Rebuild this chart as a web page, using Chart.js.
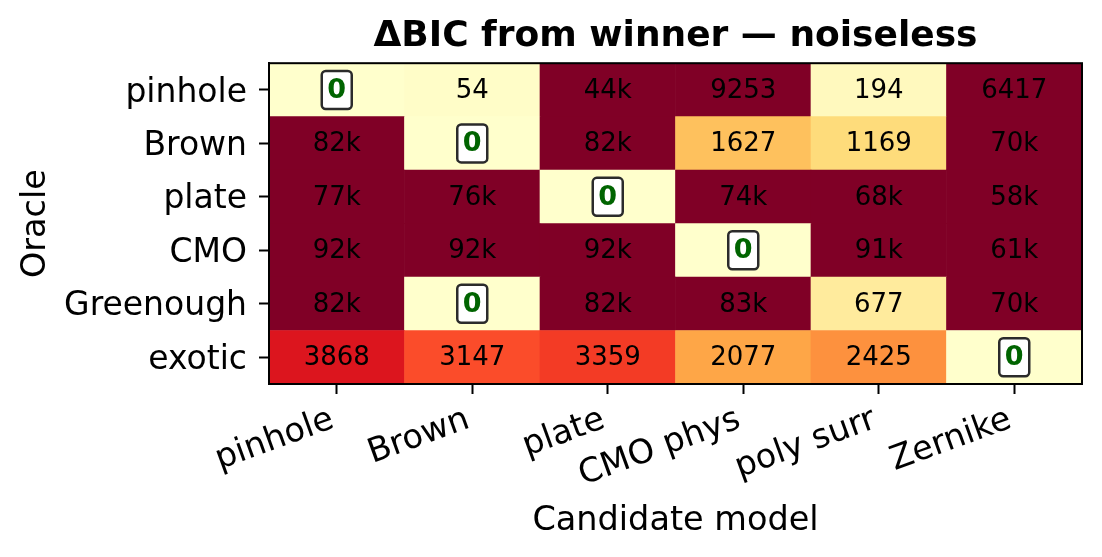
<!DOCTYPE html>
<html><head><meta charset="utf-8">
<script src="https://cdn.jsdelivr.net/npm/chart.js@4/dist/chart.umd.min.js"></script>
<style>html,body{margin:0;padding:0;background:#fff}#wrap{width:1102px;height:557px}</style>
</head><body><div id="wrap"><canvas id="c" width="1102" height="557"></canvas></div>
<script>
const candidates = ['pinhole', 'Brown', 'plate', 'CMO phys', 'poly surr', 'Zernike'];
const oracles = ['pinhole', 'Brown', 'plate', 'CMO', 'Greenough', 'exotic'];
const rowPinhole   = [0, 54, 44000, 9253, 194, 6417];
const rowBrown     = [82000, 0, 82000, 1627, 1169, 70000];
const rowPlate     = [77000, 76000, 0, 74000, 68000, 58000];
const rowCMO       = [92000, 92000, 92000, 0, 91000, 61000];
const rowGreenough = [82000, 0, 82000, 83000, 677, 70000];
const rowExotic    = [3868, 3147, 3359, 2077, 2425, 0];
const rows = [rowPinhole, rowBrown, rowPlate, rowCMO, rowGreenough, rowExotic];
const colorMax = 5000;

const YlOrRd = ['#ffffcc','#ffeda0','#fed976','#feb24c','#fd8d3c','#fc4e2a','#e31a1c','#bd0026','#800026'];
function hexToRgb(h){return [parseInt(h.slice(1,3),16),parseInt(h.slice(3,5),16),parseInt(h.slice(5,7),16)];}
function cmap(v){
  let t = Math.max(0, Math.min(1, v / colorMax));
  const n = YlOrRd.length - 1;
  const f = t * n; const i = Math.min(n - 1, Math.floor(f)); const r = f - i;
  const a = hexToRgb(YlOrRd[i]), b = hexToRgb(YlOrRd[i+1]);
  return 'rgb(' + a.map((c,k)=>Math.round(c + (b[k]-c)*r)).join(',') + ')';
}
function fmt(v){ return v >= 10000 ? Math.round(v/1000) + 'k' : String(Math.round(v)); }

Chart.defaults.font.family = "'DejaVu Sans', sans-serif";
Chart.defaults.color = '#000';

// bottom row first for stacking
const datasets = rows.slice().reverse().map((row, k) => ({
  label: oracles[oracles.length - 1 - k],
  data: row.map(() => 1),
  values: row,
  backgroundColor: row.map(cmap),
  borderWidth: 0,
  barPercentage: 1,
  categoryPercentage: 1
}));

const cellText = {
  id: 'cellText',
  afterDatasetsDraw(chart) {
    const ctx = chart.ctx;
    const ca = chart.chartArea;
    ctx.save();
    chart.data.datasets.forEach((ds, di) => {
      const meta = chart.getDatasetMeta(di);
      meta.data.forEach((bar, i) => {
        const v = ds.values[i];
        const cx = bar.x, cy = (bar.y + bar.base) / 2;
        ctx.textAlign = 'center';
        ctx.textBaseline = 'middle';
        if (v === 0) {
          const w = 30, h = 38, r = 4;
          ctx.beginPath();
          ctx.roundRect(cx - w/2, cy - h/2, w, h, r);
          ctx.fillStyle = '#ffffff';
          ctx.fill();
          ctx.lineWidth = 2.5;
          ctx.strokeStyle = '#2b2b2b';
          ctx.stroke();
          ctx.fillStyle = '#006400';
          ctx.font = "bold 27px 'DejaVu Sans'";
          ctx.fillText('0', cx, cy + 1);
        } else {
          ctx.fillStyle = '#000';
          ctx.font = "26px 'DejaVu Sans'";
          ctx.fillText(fmt(v), cx, cy + 1);
        }
      });
    });
    ctx.lineWidth = 2;
    ctx.strokeStyle = '#000';
    ctx.strokeRect(ca.left, ca.top, ca.right - ca.left, ca.bottom - ca.top);
    ctx.restore();
  }
};

new Chart(document.getElementById('c'), {
  type: 'bar',
  data: { labels: candidates, datasets },
  plugins: [cellText],
  options: {
    responsive: false,
    animation: false,
    layout: { padding: { left: 0, right: 20, top: 0, bottom: 0 } },
    plugins: {
      legend: { display: false },
      tooltip: { enabled: false },
      title: {
        display: true, fullSize: false,
        text: 'ΔBIC from winner — noiseless',
        font: { size: 36, weight: 'bold' }, color: '#000',
        padding: { top: 15, bottom: 5 }
      }
    },
    scales: {
      x: {
        stacked: true,
        grid: { offset: false, drawOnChartArea: false, drawTicks: true, tickLength: 10, tickWidth: 2, tickColor: '#000' },
        border: { display: true, color: '#000', width: 2 },
        ticks: { maxRotation: 20, minRotation: 20, autoSkip: false, font: { size: 33.5 }, color: '#000', padding: 6, labelOffset: -4 },
        title: { display: true, text: 'Candidate model', font: { size: 33.5 }, color: '#000', padding: { top: 0, bottom: 16 } },
        afterFit(s) { s.height = 173; }
      },
      y: {
        stacked: true, min: 0, max: oracles.length,
        afterBuildTicks(s) { s.ticks = oracles.map((_, i) => ({ value: i + 0.5 })); },
        grid: { drawOnChartArea: false, drawTicks: true, tickLength: 10, tickWidth: 2, tickColor: '#000' },
        border: { display: true, color: '#000', width: 2 },
        ticks: { font: { size: 33 }, color: '#000', padding: 12, labelOffset: 3,
          callback: (v) => oracles[oracles.length - 1 - Math.floor(v)] },
        title: { display: true, text: 'Oracle', font: { size: 33.5 }, color: '#000', padding: { top: 16, bottom: 0 } },
        afterFit(s) { s.width = 269; }
      }
    }
  }
});
</script></body></html>
